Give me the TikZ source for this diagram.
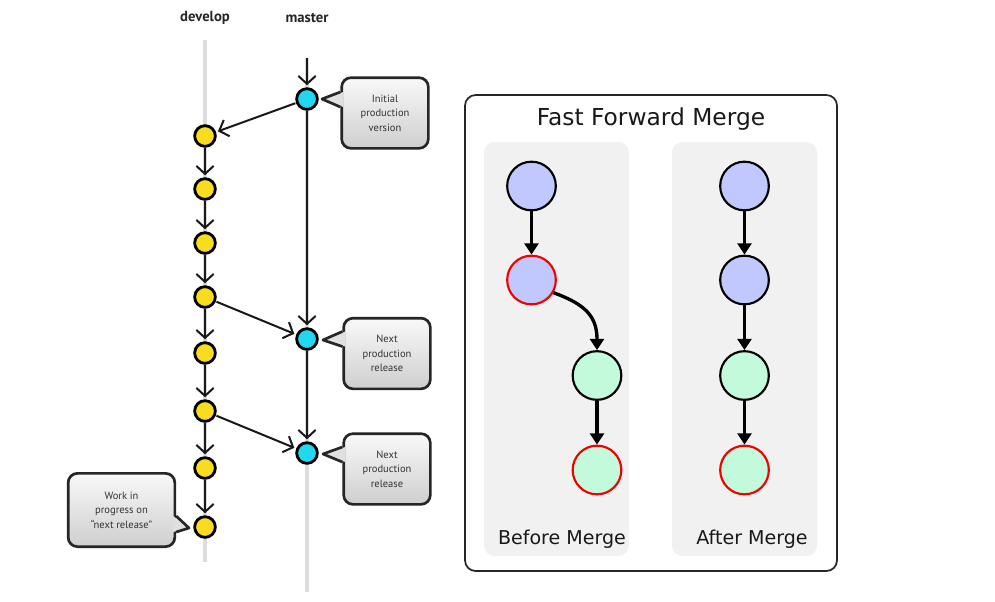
\documentclass[tikz,border=0pt]{standalone}
\usepackage{fontspec}
\setmainfont{PT Sans}
\newfontfamily\dejavu{DejaVu Sans}
\usetikzlibrary{arrows.meta}
\definecolor{devyellow}{HTML}{F8DC1E}
\definecolor{relcyan}{HTML}{22D8F0}
\definecolor{ffblue}{HTML}{C0C8FE}
\definecolor{ffgreen}{HTML}{C3FADB}
\definecolor{ffred}{HTML}{F00000}
\definecolor{panelgray}{HTML}{F1F1F1}
\definecolor{trackgray}{HTML}{DCDCDC}
\tikzset{
  devnode/.style={circle,draw=black,line width=2.1pt,fill=devyellow,minimum size=15.5pt,inner sep=0pt},
  relnode/.style={circle,draw=black,line width=2.1pt,fill=relcyan,minimum size=15.5pt,inner sep=0pt},
  sk/.style={line width=1.5pt,draw=black!90,-{Straight Barb[length=6pt,width=13pt,line width=1.5pt]},shorten >=1.5pt,shorten <=0.5pt},
  track/.style={line width=3.5pt,draw=trackgray},
  callout/.style={draw=black!85,line width=2pt,rounded corners=7pt,top color=gray!5,bottom color=gray!38,align=center,font=\fontsize{7.9}{11}\selectfont,text=black!80,minimum width=65pt,minimum height=53pt,inner sep=0pt},
  callfill/.style={fill=gray!24},
  callline/.style={draw=black!85,line width=2pt,line join=round},
  lbl/.style={font=\bfseries\fontsize{11}{13}\selectfont,text=black!85},
  ffnode/.style={circle,draw=black,line width=1.6pt,minimum size=36.5pt,inner sep=0pt},
  ffarrow/.style={line width=2.5pt,-{Triangle[length=8.5pt,width=10.5pt]}},
  fftext/.style={font=\dejavu\fontsize{14.3}{16}\selectfont,text=black!90},
}
\begin{document}
\begin{tikzpicture}[x=0.75pt,y=-0.75pt]
\useasboundingbox[fill=white] (0,0) rectangle (995,601);

% labels
\node[lbl] (ldev) at (205,18) {develop};
\node[lbl] (lmas) at (307,18) {master};

% tracks
\coordinate (devtop) at (205,40);
\coordinate (devbot) at (205,562);
\coordinate (mastop) at (307,57);
\coordinate (masbot) at (307,592);
\draw[track] (devtop) -- (devbot);
\draw[track] ([yshift=-0.75pt]mastop) -- (masbot);

% nodes
\node[relnode] (m1) at (307,99) {};
\node[relnode] (m2) at (307,339) {};
\node[relnode] (m3) at (307,453) {};
\node[devnode] (d1) at (205,136) {};
\node[devnode] (d2) at (205,189) {};
\node[devnode] (d3) at (205,243) {};
\node[devnode] (d4) at (205,297) {};
\node[devnode] (d5) at (205,353) {};
\node[devnode] (d6) at (205,411) {};
\node[devnode] (d7) at (205,468) {};
\node[devnode] (d8) at (205,527) {};

% connectors
\draw[sk] (mastop) -- (m1);
\draw[sk] (m1) -- (m2);
\draw[sk] (m2) -- (m3);
\draw[sk] (m1) -- (d1);
\draw[sk] (d1) -- (d2);
\draw[sk] (d2) -- (d3);
\draw[sk] (d3) -- (d4);
\draw[sk] (d4) -- (d5);
\draw[sk] (d5) -- (d6);
\draw[sk] (d6) -- (d7);
\draw[sk] (d7) -- (d8);
\draw[sk] (d4) -- (m2);
\draw[sk] (d6) -- (m3);

% callouts
\node[callout] (c1) at (385,113) {Initial\\production\\version};
\coordinate (p1) at (322,99);
\fill[callfill] ([shift={(3,-21)}]c1.west) -- (p1) -- ([shift={(3,-6)}]c1.west) -- cycle;
\draw[callline] ([shift={(0,-21)}]c1.west) -- (p1) -- ([shift={(0,-6)}]c1.west);

\node[callout] (c2) at (387,353.5) {Next\\production\\release};
\coordinate (p2) at (323,340);
\fill[callfill] ([shift={(3,-22)}]c2.west) -- (p2) -- ([shift={(3,-7)}]c2.west) -- cycle;
\draw[callline] ([shift={(0,-22)}]c2.west) -- (p2) -- ([shift={(0,-7)}]c2.west);

\node[callout] (c3) at (387,469) {Next\\production\\release};
\coordinate (p3) at (323,454);
\fill[callfill] ([shift={(3,-22)}]c3.west) -- (p3) -- ([shift={(3,-7)}]c3.west) -- cycle;
\draw[callline] ([shift={(0,-22)}]c3.west) -- (p3) -- ([shift={(0,-7)}]c3.west);

\node[callout,minimum width=80pt,minimum height=55pt] (c4) at (121.5,510) {Work in\\progress on\\``next release''};
\coordinate (p4) at (189,528);
\fill[callfill] ([shift={(-3,6)}]c4.east) -- (p4) -- ([shift={(-3,22)}]c4.east) -- cycle;
\draw[callline] ([shift={(0,6)}]c4.east) -- (p4) -- ([shift={(0,22)}]c4.east);

% Fast forward merge panel
\draw[line width=1.3pt,draw=black!85,fill=white,rounded corners=8pt] (465,95) rectangle (837,571);
\node[font=\dejavu\fontsize{17.5}{20}\selectfont,text=black!90] (title) at (651,119) {Fast Forward Merge};
\fill[panelgray,rounded corners=8pt] (484,142) rectangle (629,556);
\fill[panelgray,rounded corners=8pt] (672,142) rectangle (817,556);

\node[ffnode,fill=ffblue] (b1) at (531.5,186) {};
\node[ffnode,fill=ffblue,draw=ffred] (b2) at (531.5,280) {};
\node[ffnode,fill=ffgreen] (b3) at (597,375.5) {};
\node[ffnode,fill=ffgreen,draw=ffred] (b4) at (597,470) {};
\draw[ffarrow] (b1) -- (b2);
\draw[ffarrow] (b2.-30) to[out=-20,in=90,looseness=1.2] (b3.north);
\draw[ffarrow] (b3) -- (b4);

\node[ffnode,fill=ffblue] (a1) at (744.5,186) {};
\node[ffnode,fill=ffblue] (a2) at (744.5,280) {};
\node[ffnode,fill=ffgreen] (a3) at (744.5,375.5) {};
\node[ffnode,fill=ffgreen,draw=ffred] (a4) at (744.5,470) {};
\draw[ffarrow] (a1) -- (a2);
\draw[ffarrow] (a2) -- (a3);
\draw[ffarrow] (a3) -- (a4);

\node[fftext] (tb) at (562,539) {Before Merge};
\node[fftext] (ta) at (752,539) {After Merge};
\end{tikzpicture}
\end{document}
